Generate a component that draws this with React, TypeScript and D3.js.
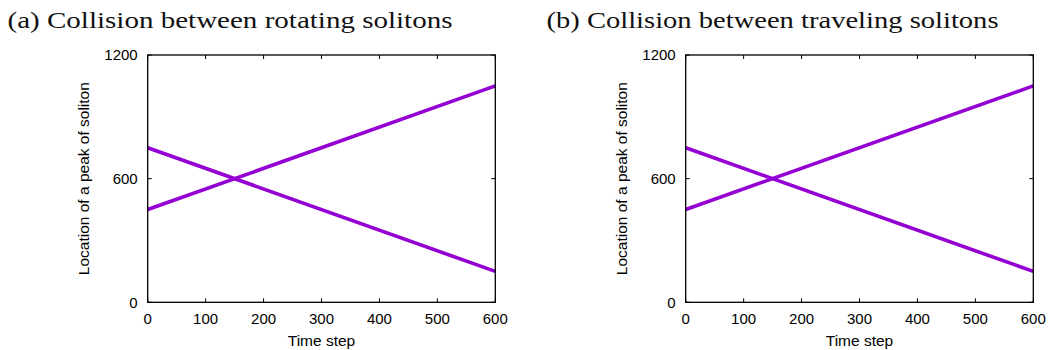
import React from "react";
import * as d3 from "d3";

const panelTitles = [
  "(a) Collision between rotating solitons",
  "(b) Collision between traveling solitons",
];
const timeSteps = [0, 600];
const solitonRightMoving = [450, 1050];
const solitonLeftMoving = [750, 150];
const xTicks = [0, 100, 200, 300, 400, 500, 600];
const yTicks = [0, 600, 1200];
const xLabel = "Time step";
const yLabel = "Location of a peak of soliton";

const W = 1050;
const H = 350;
const panelLefts = [147.7, 685.7];
const plotW = 347.6;
const plotTop = 55;
const plotBottom = 302.3;
const titleLefts = [7.5, 546.5];
const titleWidths = [445, 452];
const color = "#9400D3";
const sans = "'Liberation Sans', Arial, Helvetica, sans-serif";
const serif = "'Liberation Serif', 'Times New Roman', serif";

function Panel({ idx }: { idx: number }) {
  const left = panelLefts[idx];
  const x = d3.scaleLinear().domain([0, 600]).range([left, left + plotW]);
  const y = d3.scaleLinear().domain([0, 1200]).range([plotBottom, plotTop]);
  const line = d3
    .line<number>()
    .x((_, i) => x(timeSteps[i]))
    .y((d) => y(d));
  const series = [solitonRightMoving, solitonLeftMoving];
  const tickLen = 4;
  return (
    <g>
      <text
        x={titleLefts[idx]}
        y={28.3}
        fontFamily={serif}
        fontSize={24}
        fill="#111"
        textLength={titleWidths[idx]}
        lengthAdjust="spacingAndGlyphs"
      >
        {panelTitles[idx]}
      </text>
      {xTicks.map((t) => (
        <g key={"x" + t}>
          <line x1={x(t)} x2={x(t)} y1={plotBottom} y2={plotBottom - tickLen} stroke="#000" strokeWidth={1} />
          <line x1={x(t)} x2={x(t)} y1={plotTop} y2={plotTop + tickLen} stroke="#000" strokeWidth={1} />
          <text x={x(t)} y={324} textAnchor="middle" fontFamily={sans} fontSize={15} fill="#000">
            {t}
          </text>
        </g>
      ))}
      {yTicks.map((t) => (
        <g key={"y" + t}>
          <line x1={left} x2={left + tickLen} y1={y(t)} y2={y(t)} stroke="#000" strokeWidth={1} />
          <line x1={left + plotW} x2={left + plotW - tickLen} y1={y(t)} y2={y(t)} stroke="#000" strokeWidth={1} />
          <text x={left - 10} y={y(t) + 5.3} textAnchor="end" fontFamily={sans} fontSize={15} fill="#000">
            {t}
          </text>
        </g>
      ))}
      {series.map((s, i) => (
        <path key={i} d={line(s) || ""} fill="none" stroke={color} strokeWidth={3.6} />
      ))}
      <rect x={left} y={plotTop} width={plotW} height={plotBottom - plotTop} fill="none" stroke="#000" strokeWidth={1.3} />
      <text
        x={left + plotW / 2}
        y={346}
        textAnchor="middle"
        fontFamily={sans}
        fontSize={15.5}
        fill="#000"
      >
        {xLabel}
      </text>
      <text
        transform={`translate(${left - 58.7},${(plotTop + plotBottom) / 2}) rotate(-90)`}
        textAnchor="middle"
        fontFamily={sans}
        fontSize={15.5}
        fill="#000"
      >
        {yLabel}
      </text>
    </g>
  );
}

export default function App() {
  return (
    <svg width={W} height={H} style={{ position: "absolute", left: 0, top: 0, background: "#fff" }}>
      <rect width={W} height={H} fill="#fff" />
      <Panel idx={0} />
      <Panel idx={1} />
    </svg>
  );
}
